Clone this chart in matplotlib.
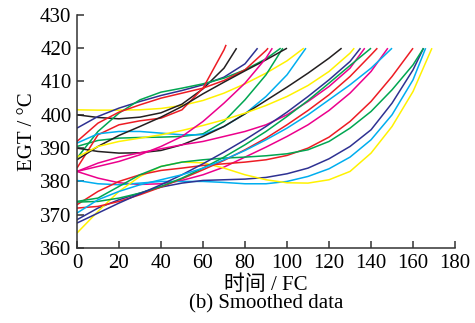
import matplotlib
matplotlib.use("Agg")
import matplotlib.pyplot as plt

# EGT (deg C) sampled every 10 FC from 0; the last value sits at the curve's end time
end_fc = {
    "yellow_a": 108, "black_a": 76, "blue_a": 86, "green_a": 97, "green_b": 98,
    "red_a": 71, "red_b": 91, "cyan_a": 109, "black_b": 100, "black_c": 126,
    "yellow_b": 132, "magenta_a": 93, "magenta_b": 137, "magenta_c": 148,
    "cyan_b": 166, "blue_b": 165, "yellow_c": 169, "red_c": 160, "green_c": 165,
    "red_d": 143, "green_d": 140, "blue_c": 135, "cyan_c": 150,
}

egt = {
    "yellow_a": [401.5, 401.4, 401.4, 401.5, 401.9, 402.8, 404.3, 406.5, 409.3, 412.5, 416.2, 420],
    "black_a": [400, 399.2, 398.8, 399.3, 400.6, 403.2, 407.8, 414, 420],
    "blue_a": [396, 399.5, 402, 404, 405.8, 407.3, 409, 411.3, 415.3, 420],
    "green_a": [387, 395, 400.5, 404.5, 406.8, 408, 409.3, 411, 413.5, 416.8, 420],
    "green_b": [390.5, 392.3, 393, 393.2, 393.3, 393.5, 394.3, 398, 404.5, 412, 420],
    "red_a": [384, 394, 397, 398.2, 399, 401.5, 408, 419.5, 421],
    "red_b": [392, 397.5, 400.8, 403, 405, 406.5, 408, 410.3, 413.5, 419.3, 420],
    "cyan_a": [391.5, 394.3, 395, 395, 394.5, 394, 394, 396.5, 400.3, 405.5, 412, 420],
    "black_b": [386.5, 390.5, 393.8, 396.5, 399.3, 402.5, 406.3, 409.8, 413.2, 416.5, 420],
    "black_c": [390, 389, 388.5, 388.6, 389.3, 391, 393.5, 396.5, 400.3, 404.3, 408.3, 412.5, 417, 420],
    "yellow_b": [387.3, 390.5, 392, 393, 394, 395.3, 396.8, 398.5, 400.5, 402.8, 405.5, 408.8, 413, 418.5, 420],
    "magenta_a": [383, 384.5, 386, 388, 390.5, 393.5, 398, 403.5, 409.5, 417, 420],
    "magenta_b": [383, 385.5, 387.3, 388.6, 389.8, 391, 392, 393.5, 395, 397, 400, 404, 408.5, 414, 420],
    "magenta_c": [383, 381, 379.6, 379.1, 379.3, 380.3, 382, 384.3, 387.3, 390.3, 393.5, 397,
                  401.3, 406.5, 413, 420],
    "cyan_b": [380.3, 379.3, 379, 379.5, 380, 380, 380, 379.7, 379.3, 379.3, 380, 381.5, 383.8,
               387.3, 392.5, 400, 410.5, 420],
    "blue_b": [368.5, 372, 374.5, 376.5, 378.3, 379.5, 380.3, 380.5, 380.7, 381.2, 382.3, 384,
               386.8, 390.5, 395.5, 403.5, 413.5, 420],
    "yellow_c": [364.5, 371, 377, 381.5, 384.5, 385.8, 385.6, 384, 382, 380.5, 379.6, 379.5,
                 380.5, 383, 388.5, 396.5, 407, 420],
    "red_c": [373, 377, 380, 382, 383.3, 384, 384.8, 385.3, 385.8, 386.5, 387.8, 390, 393.3,
              398, 404, 411.5, 420],
    "green_c": [374, 375, 378.5, 382, 384.5, 385.8, 386.5, 387, 387.3, 387.7, 388.3, 389.5, 392,
                396, 401, 407.5, 415, 420],
    "red_d": [372, 372.5, 374, 376, 378.3, 380.8, 383.5, 386.3, 389.5, 393, 397, 401.3, 406,
              411.5, 418, 420],
    "green_d": [373.8, 374, 375, 376.5, 378.5, 381, 384, 387.3, 391, 395, 399.5, 404.3, 409.5,
                414.8, 420],
    "blue_c": [367.5, 370.5, 373.5, 376.3, 379, 382, 385.3, 388.8, 392.5, 396.5, 400.8, 405.5,
               410.5, 416, 420],
    "cyan_c": [370.5, 374.5, 377, 379, 380.5, 382, 384, 386.5, 389.3, 392.5, 396, 400, 404.5,
               409, 414, 420],
}

colors = {
    "red": "#ed1c24", "green": "#00a651", "blue": "#2e3192", "cyan": "#00aeef",
    "magenta": "#ec008c", "yellow": "#fff200", "black": "#231f20",
}

plt.rcParams["font.family"] = ["Liberation Serif", "Noto Sans CJK SC"]
plt.rcParams["font.size"] = 15

fig = plt.figure(figsize=(4.75, 3.23), dpi=100)
ax = fig.add_axes([0.162, 0.232, 0.796, 0.722])

for name, ys in egt.items():
    xs = list(range(0, end_fc[name], 10)) + [end_fc[name]]
    ax.plot(xs, ys, color=colors[name.split("_")[0]], lw=1.1, solid_capstyle="butt")

ax.set_xlim(0, 180)
ax.set_ylim(360, 430)
ax.set_xticks(range(0, 181, 20))
ax.set_yticks(range(360, 431, 10))
ax.spines["top"].set_visible(False)
ax.spines["right"].set_visible(False)
for s in ("left", "bottom"):
    ax.spines[s].set_linewidth(1.1)
    ax.spines[s].set_color("#333333")
ax.tick_params(direction="in", length=5, width=1.1, color="#333333", pad=4)

ax.set_xlabel("时间 / FC", labelpad=2)
ax.set_ylabel("EGT / °C", labelpad=2)
fig.text(0.56, 0.058, "(b) Smoothed data", ha="center", va="center")

fig.savefig("out.png", dpi=100)
